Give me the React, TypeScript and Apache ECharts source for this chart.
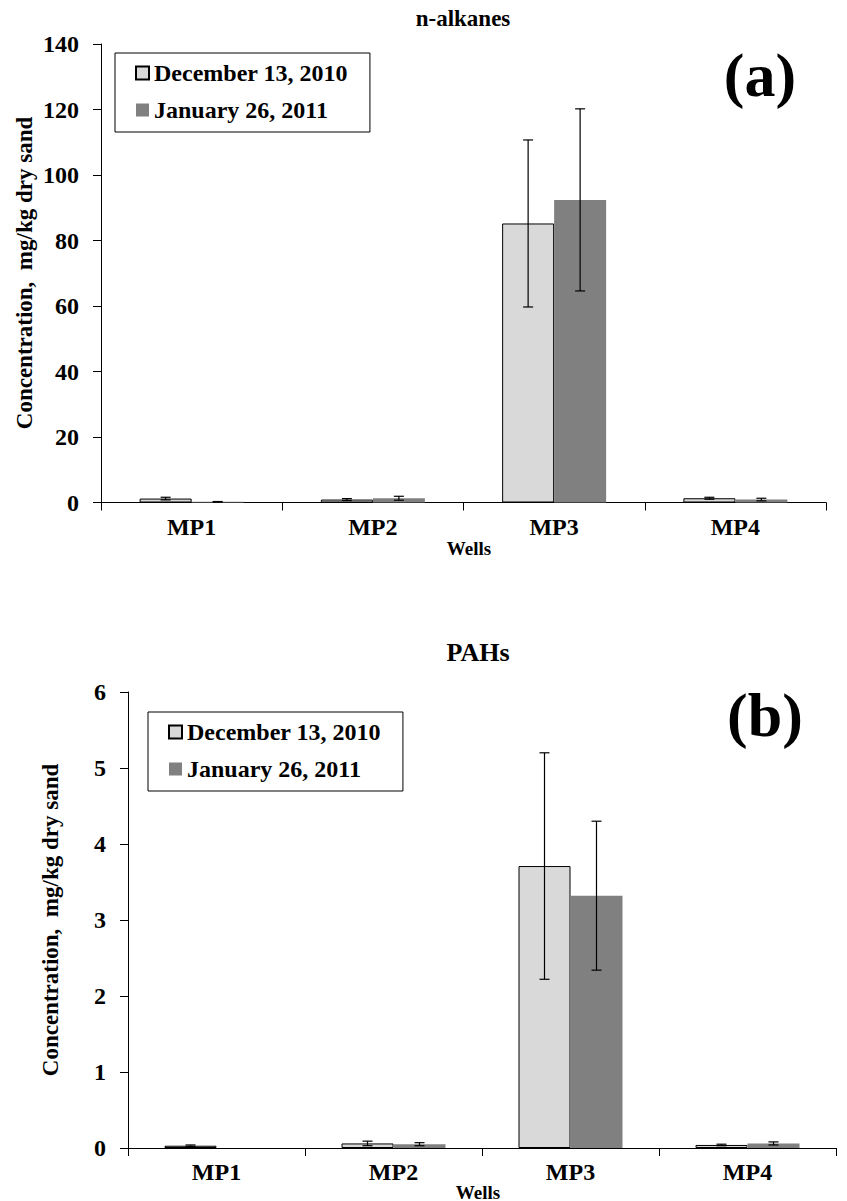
import React, { useEffect, useRef } from "react";
import * as echarts from "echarts";

const categories = ["MP1", "MP2", "MP3", "MP4"];
const seriesNames = ["December 13, 2010", "January 26, 2011"];

// n-alkanes (mg/kg dry sand)
const alkDec = [1.2, 0.9, 85.2, 1.3];
const alkDecErr = [0.4, 0.3, 25.5, 0.3];
const alkJan = [0.2, 1.3, 92.4, 0.9];
const alkJanErr = [0.1, 0.6, 27.8, 0.4];

// PAHs (mg/kg dry sand)
const pahDec = [0.03, 0.06, 3.71, 0.04];
const pahDecErr = [0.01, 0.03, 1.49, 0.01];
const pahJan = [0.0, 0.05, 3.32, 0.06];
const pahJanErr = [0.0, 0.02, 0.98, 0.02];

const alkTicks = { min: 0, max: 140, interval: 20 };
const pahTicks = { min: 0, max: 6, interval: 1 };

const FONT = "'Liberation Serif', 'Times New Roman', serif";
const LIGHT = "#d9d9d9";
const DARK = "#808080";
const BAR_W = 52;

function errData(vals: number[], errs: number[]) {
  return vals.map((v, i) => [i, Math.max(0, v - errs[i]), v + errs[i]]);
}

function errSeries(data: number[][], offset: number, axis: number) {
  return {
    type: "custom",
    xAxisIndex: axis,
    yAxisIndex: axis,
    z: 10,
    silent: true,
    encode: { x: 0, y: [1, 2] },
    data,
    renderItem: (params: any, api: any) => {
      const idx = api.value(0);
      const lo = api.value(1);
      const hi = api.value(2);
      if (hi - lo <= 0) return null;
      const pLo = api.coord([idx, lo]);
      const pHi = api.coord([idx, hi]);
      const cx = pLo[0] + offset;
      const cap = 5;
      const st = { stroke: "#000", lineWidth: 1.2 };
      return {
        type: "group",
        children: [
          { type: "line", shape: { x1: cx, y1: pHi[1], x2: cx, y2: pLo[1] }, style: st },
          { type: "line", shape: { x1: cx - cap, y1: pHi[1], x2: cx + cap, y2: pHi[1] }, style: st },
          { type: "line", shape: { x1: cx - cap, y1: pLo[1], x2: cx + cap, y2: pLo[1] }, style: st },
        ],
      };
    },
  };
}

function barSeries(name: string, data: number[], axis: number, light: boolean) {
  return {
    name,
    type: "bar",
    xAxisIndex: axis,
    yAxisIndex: axis,
    barWidth: BAR_W,
    barGap: "0%",
    data,
    itemStyle: light
      ? { color: LIGHT, borderColor: "#000", borderWidth: 1 }
      : { color: DARK, borderColor: DARK, borderWidth: 0 },
  };
}

const axisLineStyle = { lineStyle: { color: "#000", width: 1 } };

function xAxis(grid: number) {
  return {
    type: "category",
    gridIndex: grid,
    data: categories,
    axisLine: axisLineStyle,
    axisTick: { show: true, length: 8, lineStyle: { color: "#000" } },
    axisLabel: { color: "#000", fontFamily: FONT, fontWeight: "bold", fontSize: 24, margin: 12 },
  };
}

function yAxis(grid: number, t: { min: number; max: number; interval: number }) {
  return {
    type: "value",
    gridIndex: grid,
    min: t.min,
    max: t.max,
    interval: t.interval,
    axisLine: { show: true, ...axisLineStyle },
    axisTick: { show: true, length: 8, lineStyle: { color: "#000" } },
    splitLine: { show: false },
    axisLabel: { color: "#000", fontFamily: FONT, fontWeight: "bold", fontSize: 24, margin: 22 },
  };
}

function legend(left: number, top: number) {
  return {
    orient: "vertical",
    left,
    top,
    data: seriesNames,
    icon: "rect",
    itemWidth: 13,
    itemHeight: 13,
    itemGap: 13,
    padding: [8, 22, 10, 20],
    borderColor: "#000",
    borderWidth: 1,
    backgroundColor: "#fff",
    selectedMode: false,
    textStyle: { color: "#000", fontFamily: FONT, fontWeight: "bold", fontSize: 24, lineHeight: 24 },
  };
}

function txt(text: string, x: number, y: number, size: number, rotation = 0) {
  return {
    type: "text",
    x,
    y,
    rotation,
    style: {
      text,
      fill: "#000",
      fontFamily: FONT,
      fontWeight: "bold",
      fontSize: size,
      textAlign: "center",
      textVerticalAlign: "middle",
    },
  };
}

export default function App() {
  const ref = useRef<HTMLDivElement>(null);
  useEffect(() => {
    if (!ref.current) return;
    const chart = echarts.init(ref.current, null, { renderer: "svg" });
    chart.setOption({
      animation: false,
      backgroundColor: "#fff",
      grid: [
        { left: 101, top: 44, width: 725, height: 458.5 },
        { left: 128, top: 692, width: 708, height: 456 },
      ],
      xAxis: [xAxis(0), xAxis(1)],
      yAxis: [yAxis(0, alkTicks), yAxis(1, pahTicks)],
      legend: [legend(115, 53), legend(148, 712)],
      series: [
        barSeries(seriesNames[0], alkDec, 0, true),
        barSeries(seriesNames[1], alkJan, 0, false),
        errSeries(errData(alkDec, alkDecErr), -BAR_W / 2, 0),
        errSeries(errData(alkJan, alkJanErr), BAR_W / 2, 0),
        barSeries(seriesNames[0], pahDec, 1, true),
        barSeries(seriesNames[1], pahJan, 1, false),
        errSeries(errData(pahDec, pahDecErr), -BAR_W / 2, 1),
        errSeries(errData(pahJan, pahJanErr), BAR_W / 2, 1),
      ],
      graphic: [
        txt("n-alkanes", 463, 18, 23),
        txt("(a)", 760, 75, 62),
        txt("Concentration,  mg/kg dry sand", 24, 273, 23, Math.PI / 2),
        txt("Wells", 469, 548, 19),
        txt("PAHs", 478, 652, 26),
        txt("(b)", 765, 715, 62),
        txt("Concentration,  mg/kg dry sand", 50, 920, 23, Math.PI / 2),
        txt("Wells", 478, 1192, 19),
      ],
    });
    return () => chart.dispose();
  }, []);
  return (
    <div
      ref={ref}
      style={{ position: "absolute", left: 0, top: 0, width: 847, height: 1201, background: "#fff" }}
    />
  );
}
